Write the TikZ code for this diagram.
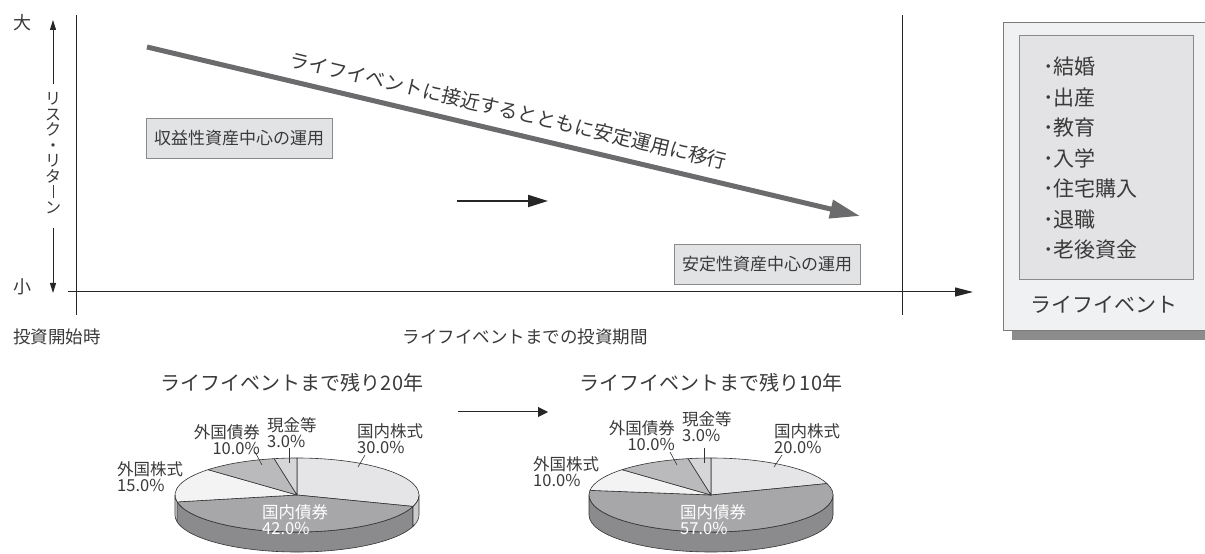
\documentclass[tikz,border=0pt]{standalone}
\usepackage{fontspec}
\usepackage{graphicx}
\setmainfont{Noto Sans CJK JP}
\usetikzlibrary{arrows.meta}
\definecolor{txt}{HTML}{3A3A3A}
\definecolor{boxfill}{HTML}{E2E3E5}
\definecolor{boxline}{HTML}{8A8A8A}
\definecolor{trendgray}{HTML}{6B6B6D}
\definecolor{cardfill}{HTML}{F0F1F2}
\definecolor{cardline}{HTML}{7A7A7A}
\definecolor{listfill}{HTML}{E3E3E5}
\definecolor{shadowgray}{HTML}{8C8C8C}
\definecolor{dstock}{HTML}{E5E5E7}
\definecolor{dstockside}{HTML}{CBCBCD}
\definecolor{dbond}{HTML}{A7A7A9}
\definecolor{dbondside}{HTML}{8B8B8D}
\definecolor{fstock}{HTML}{F3F3F4}
\definecolor{fstockside}{HTML}{DCDCDD}
\definecolor{fbond}{HTML}{BABABC}
\definecolor{cash}{HTML}{D6D6D8}
\definecolor{edge}{HTML}{333333}
\tikzstyle{lbl}=[font=\fontsize{16.5}{16}\selectfont,text=txt,inner sep=0pt]
\tikzstyle{axislbl}=[font=\fontsize{17.5}{17.5}\selectfont,text=txt,inner sep=0pt]
\tikzstyle{title}=[font=\fontsize{20}{20}\selectfont,text=txt,inner sep=0pt]
\tikzstyle{plan}=[draw=boxline,fill=boxfill,minimum width=186pt,minimum height=40pt,font=\fontsize{17}{17}\selectfont,text=txt]
\tikzstyle{axis}=[draw=black!85,line width=1pt]
\tikzstyle{leader}=[draw=edge,line width=0.6pt]
\tikzstyle{slice}=[draw=edge,line width=0.6pt,line join=round]
\tikzstyle{event}=[font=\fontsize{21}{21}\selectfont,text=txt,inner sep=0pt]
\newcommand{\pietop}[3]{\filldraw[slice,fill=#3] (0,0) -- (#1:122pt and 37pt) arc[start angle=#1,end angle=#2,x radius=122pt,y radius=37pt] -- cycle;}
\newcommand{\pieside}[3]{\filldraw[slice,fill=#3] (#1:122pt and 37pt) arc[start angle=#1,end angle=#2,x radius=122pt,y radius=37pt] -- ++(0,-20) arc[start angle=#2,end angle=#1,x radius=122pt,y radius=37pt] -- cycle;}
\newcommand{\vbar}{\rule[-0.5pt]{0.9pt}{13pt}}

\begin{document}
\begin{tikzpicture}[x=1pt,y=1pt]
\useasboundingbox (0,0) rectangle (1205,554);
% axes
\coordinate (ytop) at (76,539);
\coordinate (ybot) at (76,239);
\coordinate (xl) at (68,262);
\coordinate (xr) at (973,262);
\coordinate (vtop) at (902,539);
\coordinate (vbot) at (902,239);
\draw[axis] (ybot) -- (ytop);
\draw[axis,-{Triangle[length=18pt,width=9pt]}] (xl) -- (xr);
\draw[axis] (vbot) -- (vtop);
\node[axislbl,font=\fontsize{18}{18}\selectfont] (big) at (22,531) {大};
\node[axislbl,font=\fontsize{18}{18}\selectfont] (small) at (22,267) {小};
\node[axislbl,font=\fontsize{16}{15.5}\selectfont,align=center] (risk) at (53,401) {リ\\ス\\ク\\・\\リ\\タ\\\vbar\\ン};
\coordinate (rtop) at (53,534);
\coordinate (rbot) at (53,261);
\draw[axis,-{Triangle[length=10pt,width=6pt]}] ([yshift=8pt]risk.north) -- (rtop);
\draw[axis,-{Triangle[length=10pt,width=6pt]}] ([yshift=-14pt]risk.south) -- (rbot);
\node[axislbl] (begin) at (57,217) {投資開始時};
\node[axislbl] (period) at (525,217) {ライフイベントまでの投資期間};

% shift to stable assets
\coordinate (hs) at (147,507);
\coordinate (he) at (860,338);
\draw[trendgray,line width=5pt,-{Triangle[length=30pt,width=18pt]}] (hs) -- node[sloped,above=10pt,inner sep=0pt,font=\fontsize{19.5}{19.5}\selectfont,text=txt] (shift) {ライフイベントに接近するとともに安定運用に移行} (he);
\node[plan] (earn) at (239,416) {収益性資産中心の運用};
\node[plan] (safe) at (767,290) {安定性資産中心の運用};
\coordinate (ma) at (457,353);
\coordinate (mb) at (548,353);
\draw[black!85,line width=2pt,-{Triangle[length=20pt,width=12pt]}] (ma) -- (mb);

% life events
\fill[shadowgray] (1012,214) rectangle (1210,523);
\draw[cardline,fill=cardfill] (1003,224) rectangle (1210,532);
\draw[boxline,fill=listfill] (1019,275) rectangle (1193,519);
\foreach \ev [count=\i] in {結婚,出産,教育,入学,住宅購入,退職,老後資金}
  \node[event,anchor=west] (ev\i) at (1043,{487-(\i-1)*30.5}) {･\ev};
\node[event] (events) at (1104,249) {ライフイベント};

% 20 years left
\node[title] (t20) at (292,171) {ライフイベントまで残り20年};
\begin{scope}[shift={(297,59)}]
\pieside{180}{190.8}{fstockside}
\pieside{190.8}{342}{dbondside}
\pieside{342}{360}{dstockside}
\pietop{90}{-18}{dstock}
\pietop{-18}{-169.2}{dbond}
\pietop{-169.2}{-223.2}{fstock}
\pietop{-223.2}{-259.2}{fbond}
\pietop{-259.2}{-270}{cash}
\end{scope}
\node[lbl,anchor=west,align=left] (ds20) at (357,115) {国内株式\\30.0\%};
\node[lbl,anchor=west,align=left,text=white] (db20) at (262,34) {国内債券\\42.0\%};
\node[lbl,anchor=west,align=left] (fs20) at (117,77) {外国株式\\15.0\%};
\node[lbl,anchor=east,align=right] (fb20) at (260,114) {外国債券\\10.0\%};
\node[lbl,anchor=west,align=left] (c20) at (267,121) {現金等\\3.0\%};
\coordinate (a1) at (365,99);
\coordinate (b1) at (358,87);
\coordinate (a2) at (255,102);
\coordinate (b2) at (262,89);
\coordinate (a3) at (289,106);
\coordinate (b3) at (289,91);
\draw[leader] (a1) -- (b1);
\draw[leader] (a2) -- (b2);
\draw[leader] (a3) -- (b3);

\coordinate (na) at (458,142);
\coordinate (nb) at (548,142);
\draw[black!85,line width=1pt,-{Triangle[length=10pt,width=10pt]}] (na) -- (nb);

% 10 years left
\node[title] (t10) at (711,171) {ライフイベントまで残り10年};
\begin{scope}[shift={(711,59)}]
\pieside{180}{360}{dbondside}
\pietop{90}{18}{dstock}
\pietop{18}{-187.2}{dbond}
\pietop{-187.2}{-223.2}{fstock}
\pietop{-223.2}{-259.2}{fbond}
\pietop{-259.2}{-270}{cash}
\end{scope}
\node[lbl,anchor=west,align=left] (ds10) at (774,115) {国内株式\\20.0\%};
\node[lbl,anchor=west,align=left,text=white] (db10) at (680,34) {国内債券\\57.0\%};
\node[lbl,anchor=west,align=left] (fs10) at (533,82) {外国株式\\10.0\%};
\node[lbl,anchor=east,align=right] (fb10) at (675,118) {外国債券\\10.0\%};
\node[lbl,anchor=west,align=left] (c10) at (682,127) {現金等\\3.0\%};
\coordinate (a4) at (782,99);
\coordinate (b4) at (774,87);
\coordinate (a5) at (670,102);
\coordinate (b5) at (677,89);
\coordinate (a6) at (704,106);
\coordinate (b6) at (704,91);
\draw[leader] (a4) -- (b4);
\draw[leader] (a5) -- (b5);
\draw[leader] (a6) -- (b6);
\end{tikzpicture}
\end{document}
